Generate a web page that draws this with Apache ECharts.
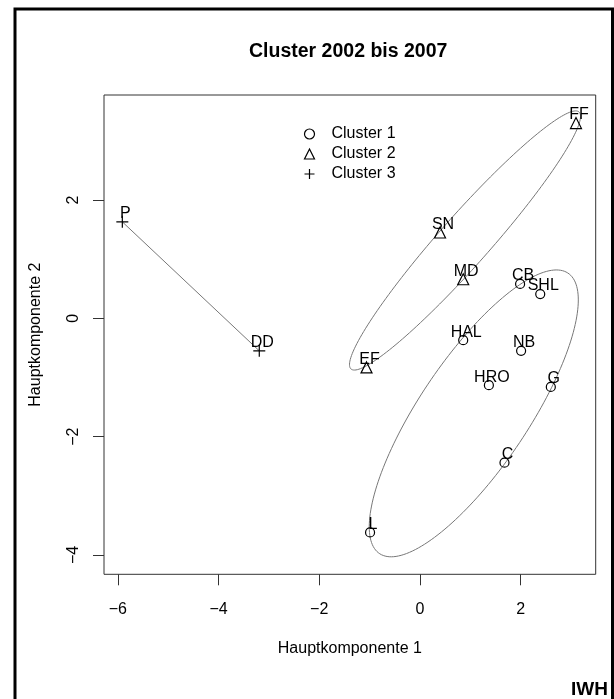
<!DOCTYPE html>
<html>
<head>
<meta charset="utf-8">
<script src="https://cdn.jsdelivr.net/npm/echarts@6/dist/echarts.min.js"></script>
<style>
  html,body{margin:0;padding:0;background:#fff;}
  .cluster{width:614px;height:699px;}
</style>
</head>
<body>
<div class="cluster"></div>
<script>
// Daten (Hauptkomponenten 1/2)
var names1 = ['CB', 'SHL', 'HAL', 'NB', 'HRO', 'G', 'C', 'L'];
var x1 = [1.99, 2.39, 0.86, 2.01, 1.37, 2.60, 1.68, -0.99];
var y1 = [0.58, 0.41, -0.37, -0.55, -1.13, -1.16, -2.44, -3.62];

var names2 = ['FF', 'SN', 'MD', 'EF'];
var x2 = [3.10, 0.40, 0.86, -1.06];
var y2 = [3.30, 1.45, 0.66, -0.83];

var names3 = ['P', 'DD'];
var x3 = [-5.91, -3.19];
var y3 = [1.63, -0.55];

var clusterNames = ['Cluster 1', 'Cluster 2', 'Cluster 3'];
var xTicks = [-6, -4, -2, 0, 2];
var yTicks = [-4, -2, 0, 2];

// Ellipsen: Mittelpunkt und zwei Halbachsen-Vektoren
var ellCenter = [[0.896, 1.315], [1.070, -1.607]];
var ellA = [[2.264, 2.172], [2.076, 1.917]];
var ellB = [[0.371, -0.281], [0, -1.484]];

(function(){
    var mycharts = echarts.init(document.querySelector('.cluster'));
    var font = 'Liberation Sans, Arial, Helvetica, sans-serif';

    function pts(xs, ys, ns){
        return xs.map(function(x, i){ return [x, ys[i], ns[i]]; });
    }
    function minus(v){ return String(v).replace('-', '\u2212'); }

    var hollow = {color: 'none', borderColor: '#000', borderWidth: 1.2, opacity: 1};
    var plus = 'path://M0,5L10,5M5,0L5,10';
    var lbl = {
        show: true,
        position: 'inside',
        offset: [3, -8],
        formatter: function(p){ return p.data[2]; },
        color: '#000',
        textBorderWidth: 0,
        textBorderColor: 'transparent',
        fontSize: 16,
        fontFamily: font
    };

    var option = {
        animation: false,
        title: {
            text: 'Cluster 2002 bis 2007',
            left: 244,
            top: 37,
            textStyle: {fontSize: 19.5, fontWeight: 'bold', color: '#000', fontFamily: font}
        },
        graphic: [
            {type: 'rect', shape: {x: 15, y: 9, width: 597.5, height: 720},
             style: {fill: 'none', stroke: '#000', lineWidth: 3}, z: 100},
            {type: 'text', right: 6, top: 680,
             style: {text: 'IWH', fill: '#000', font: 'bold 19px ' + font}}
        ],
        legend: {
            orient: 'vertical',
            left: 302,
            top: 126,
            padding: 0,
            itemWidth: 10,
            itemHeight: 10,
            itemGap: 4,
            textStyle: {fontSize: 16, color: '#000', fontFamily: font, lineHeight: 16, padding: [0, 0, 0, 12]},
            data: [
                {name: clusterNames[0], icon: 'circle', itemStyle: hollow},
                {name: clusterNames[1], icon: 'triangle', itemStyle: hollow},
                {name: clusterNames[2], icon: plus, itemStyle: hollow}
            ]
        },
        grid: {
            left: 104, right: 18.3, top: 95, bottom: 124.7,
            show: true, borderColor: '#333', borderWidth: 1
        },
        xAxis: {
            type: 'value',
            min: -6.274, max: 3.4915,
            name: 'Hauptkomponente 1',
            nameLocation: 'middle',
            nameGap: 66,
            nameTextStyle: {fontSize: 16, color: '#000', fontFamily: font},
            axisLine: {show: false, onZero: false},
            splitLine: {show: false},
            axisTick: {show: true, inside: false, length: 11, customValues: xTicks, lineStyle: {color: '#333'}},
            axisLabel: {customValues: xTicks, margin: 27, fontSize: 16, color: '#000', fontFamily: font, formatter: minus}
        },
        yAxis: {
            type: 'value',
            min: -4.327, max: 3.774,
            name: 'Hauptkomponente 2',
            nameLocation: 'middle',
            nameGap: 60,
            nameRotate: 90,
            nameTextStyle: {fontSize: 16, color: '#000', fontFamily: font},
            axisLine: {show: false, onZero: false},
            splitLine: {show: false},
            axisTick: {show: true, inside: false, length: 11, customValues: yTicks, lineStyle: {color: '#333'}},
            axisLabel: {customValues: yTicks, rotate: 90, margin: 22, fontSize: 16, color: '#000', fontFamily: font, formatter: minus}
        },
        series: [
            {
                type: 'custom',
                silent: true,
                z: 1,
                data: ellCenter.map(function(c, i){ return [c[0], c[1], i]; }),
                renderItem: function(params, api){
                    var i = api.value(2);
                    var c = ellCenter[i], a = ellA[i], b = ellB[i];
                    var poly = [];
                    for (var k = 0; k <= 180; k++){
                        var t = Math.PI * 2 * k / 180;
                        poly.push(api.coord([
                            c[0] + a[0] * Math.cos(t) + b[0] * Math.sin(t),
                            c[1] + a[1] * Math.cos(t) + b[1] * Math.sin(t)
                        ]));
                    }
                    return {type: 'polygon', shape: {points: poly}, style: {fill: 'none', stroke: '#777', lineWidth: 1}};
                }
            },
            {
                type: 'line',
                silent: true,
                z: 1,
                symbol: 'none',
                data: pts(x3, y3, names3),
                lineStyle: {color: '#777', width: 1}
            },
            {
                name: clusterNames[0],
                type: 'scatter',
                symbol: 'circle',
                symbolSize: 9,
                itemStyle: hollow,
                label: lbl,
                data: pts(x1, y1, names1)
            },
            {
                name: clusterNames[1],
                type: 'scatter',
                symbol: 'triangle',
                symbolSize: 11,
                itemStyle: hollow,
                label: lbl,
                data: pts(x2, y2, names2)
            },
            {
                name: clusterNames[2],
                type: 'scatter',
                symbol: plus,
                symbolSize: 12,
                itemStyle: hollow,
                label: lbl,
                data: pts(x3, y3, names3)
            }
        ]
    };
    mycharts.setOption(option);
})();
</script>
</body>
</html>
